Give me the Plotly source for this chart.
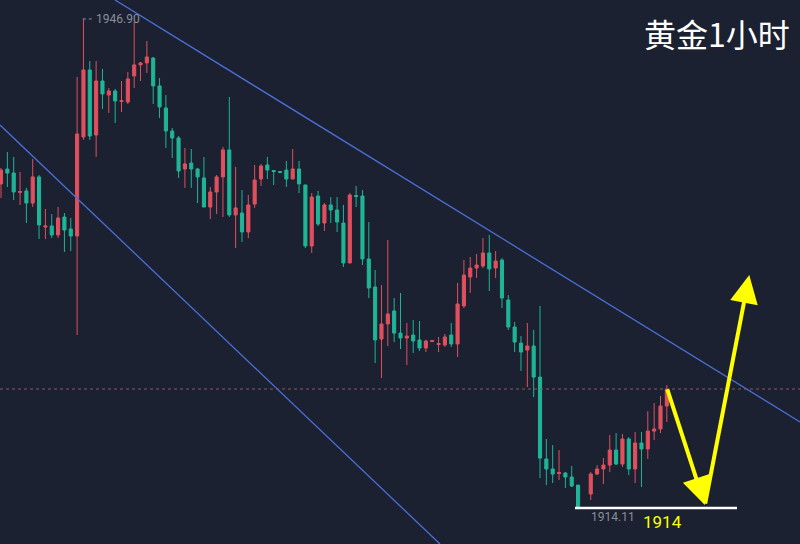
import plotly.graph_objects as go

# Readings of each hourly candle (rows in the picture), converted with the chart's
# own labels: 1946.90 (high) and 1914.11 (low).
idx = list(range(0, 92)) + list(range(93, 106))
high_r = [168,152,157,172,188,159,175,209,214,207,213,218,77,19,61,61,69,88,89,81,72,22,62,41,57,78,95,128,136,148,
          149,168,157,187,175,147,97,167,190,195,165,164,157,171,171.5,161,149,161,185,193,191,203,197,197,205,193,186,190,222,270,
          285,240,298,293,323,320,321,340,340.5,337,334,323,283,260,257,254,238,235,251,258,295,322,336,323,330,306,439,445,450,472,
          466,485,472,465,458,435,433,434,437,432,432,411,403,396,385]
low_r = [198,187,200,205,223,207,239,239,238,238,252,251,335,140,140,157,109,113,123,112,104,88,81,73,104,118,148,158,178,188,
         188,203,207,219,214,217,217,248,242,238,208,186,179,185,172.5,187,179,193,248,253,226,231,223,232,267,263,207,265,298,363,
         378,346,342,349,365,353,351,352,341.5,352,347,347,357,308,293,278,268,291,278,308,330,352,371,387,397,478,485,483,480,488,
         487,508,500,475,484,472,465,467,475,483,487,459,440,433,422]
top_r = [170,169,173,191.5,191,177,177,226,226,218,217,229,134,70,70,81,81,91,91,100.5,79,65,63,57,58,86,108,131,138,164,
         163,169,178,192,177,150,150,208,213,205,180,166,165,170.5,171.5,170,169,169,185,197,196,205,205,210,223,195,195.5,196,259,287,
         324,314,311,333,336,335,340,341,340.5,343.5,337,335,304,275,268,265,253,253,261,260,300,327,343,346,346,377,459,469,472.5,473,
         477,485,474,469,465,450,450,439,439,443,443,431,429,406,389]
bot_r = [184,173,192,192.5,203,203,225,227,235,235,230,236,236,137,136,135,94,95,101,101.5,102,76,65,63,86,107,131,138,171,169,
         169,177,207,207,192,177,215,215,232,232,204,179,170,171.5,172.5,179,179,184,246,246,224,223,210,222,263,263,196.5,259,288,340,
         339,324,333,338,338,341,348,348,341.5,344.5,345,344,344,306,277,268,266,269,268,298,327,342,352,350,377,458,469,474,473.5,477,
         486,508,494,474,469,465,464,464,469,469,449,449,431,429,406]
up = ("rggrgrgrgr" "ggrrgrgrgr" "rrrrgggggr" "gggrrrgrgr" "rrggggrggr" "grgggrgggg"
      "rrggrggrrr" "rgrrrrrgrg" "gggrggggrg" "gg" "rrrrgrgrgrrrr")

P_HI, R_HI, P_LO, R_LO = 1946.90, 19, 1914.11, 508
k = (P_HI - P_LO) / (R_LO - R_HI)
px = lambda r: round(P_HI - (r - R_HI) * k, 2)
high = [px(v) for v in high_r]
low = [px(v) for v in low_r]
opens, closes = [], []
for t, b, c in zip(top_r, bot_r, up):
    if c == "r":
        opens.append(px(b)); closes.append(px(t))
    else:
        opens.append(px(t)); closes.append(px(b))
last_price = closes[-1]

RED, GREEN, BG = "#e0505e", "#1fb596", "#1b2130"
fig = go.Figure(go.Candlestick(
    x=idx, open=opens, high=high, low=low, close=closes,
    increasing=dict(line=dict(color=RED, width=1), fillcolor=RED),
    decreasing=dict(line=dict(color=GREEN, width=1), fillcolor=GREEN),
    whiskerwidth=0, hoverinfo="skip"))

x0, x1 = -0.16, 126.0
y1 = px(0); y0 = px(544)
fig.update_layout(
    width=800, height=544, margin=dict(l=0, r=0, t=0, b=0),
    paper_bgcolor=BG, plot_bgcolor=BG, showlegend=False,
    xaxis=dict(range=[x0, x1], visible=False, rangeslider=dict(visible=False)),
    yaxis=dict(range=[y0, y1], visible=False),
)
shapes = [
    dict(type="line", xref="paper", yref="paper", x0=115/800, y0=1, x1=1, y1=1-422/544,
         line=dict(color="#4a6fd8", width=1.3)),
    dict(type="line", xref="paper", yref="paper", x0=0, y0=1-125/544, x1=440/800, y1=0,
         line=dict(color="#4a6fd8", width=1.3)),
    dict(type="line", xref="paper", yref="y", x0=0, x1=1, y0=last_price, y1=last_price,
         line=dict(color="#8a5a60", width=1, dash="dot")),
    dict(type="line", xref="paper", yref="y", x0=575/800, x1=737/800, y0=P_LO, y1=P_LO,
         line=dict(color="white", width=2.5)),
    dict(type="line", xref="x", yref="y", x0=12.9, x1=14.6, y0=P_HI, y1=P_HI,
         line=dict(color="#8a8f99", width=1, dash="dot")),
]
fig.update_layout(shapes=shapes)

YEL = "#ffff00"
tip_x, bottom_x, top_x = 105, 111, 118
ann = [
    dict(x=14.7, y=P_HI, text="1946.90", showarrow=False, xanchor="left", yanchor="middle",
         font=dict(color="#8a8f99", size=12, family="Roboto")),
    dict(x=92.8, y=P_LO, text="1914.11", showarrow=False, xanchor="left", yanchor="top",
         font=dict(color="#8a8f99", size=12, family="Roboto")),
    dict(x=104.3, y=px(522), text="1914", showarrow=False,
         font=dict(color=YEL, size=17, family="Roboto")),
    dict(x=0.99, y=0.985, xref="paper", yref="paper", text="黄金1小时", showarrow=False,
         xanchor="right", yanchor="top", font=dict(color="white", size=32, family="Noto Sans CJK SC")),
    dict(x=bottom_x, y=px(505), ax=tip_x, ay=px(388), axref="x", ayref="y", xref="x", yref="y",
         text="", showarrow=True, arrowhead=2, arrowsize=1.4, arrowwidth=4, arrowcolor=YEL),
    dict(x=top_x, y=px(275), ax=bottom_x, ay=px(505), axref="x", ayref="y", xref="x", yref="y",
         text="", showarrow=True, arrowhead=2, arrowsize=1.4, arrowwidth=4, arrowcolor=YEL),
]
fig.update_layout(annotations=ann)
fig.write_html("out.html", config={"displayModeBar": False, "staticPlot": True},
               post_script="document.body.style.margin='0';document.body.style.overflow='hidden';")
